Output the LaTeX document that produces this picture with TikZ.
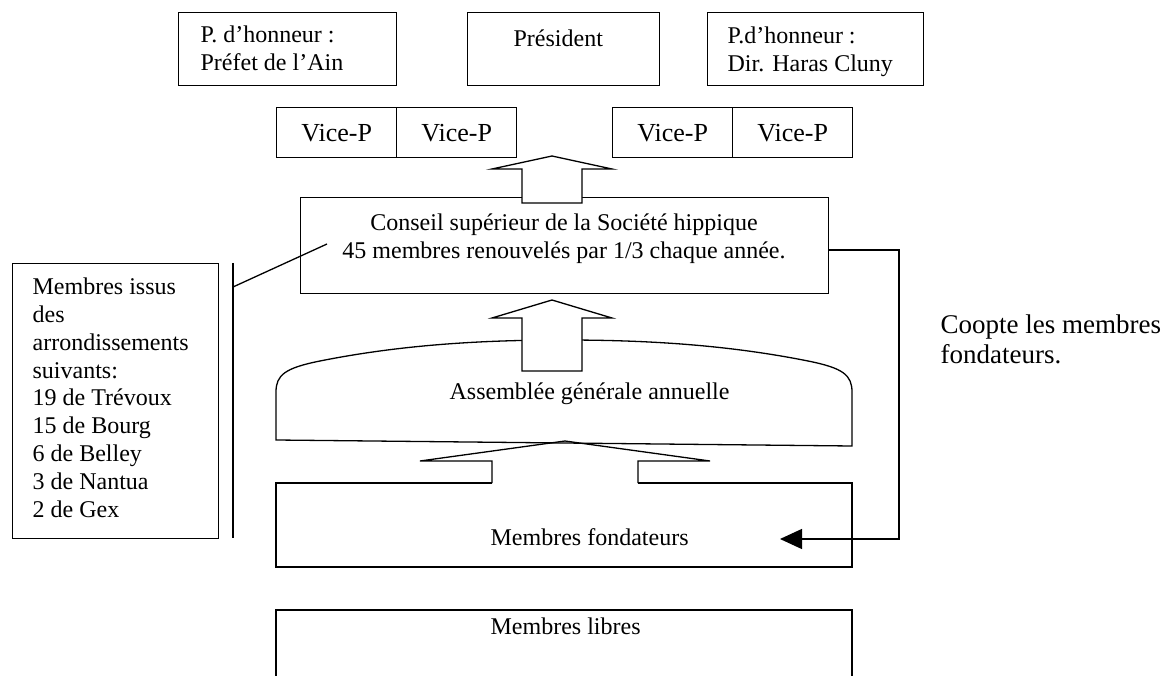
\documentclass[tikz,border=0pt]{standalone}
\usepackage{fontspec}
\setmainfont{Liberation Serif}
\usetikzlibrary{arrows.meta}
\begin{document}
\begin{tikzpicture}[x=1pt,y=-1pt, line width=1.3pt, line join=miter,
  txt/.style={font=\fontsize{24}{28}\selectfont, inner sep=0pt, anchor=base west, align=left},
  rect/.style={draw, inner sep=0pt, anchor=north west},
  vpbox/.style={rect, minimum width=120pt, minimum height=50pt, font=\fontsize{26}{30}\selectfont},
  bigarrow/.style={draw, fill=white},
]
\useasboundingbox (0,0) rectangle (1163,676);

% top row
\node[rect, minimum width=218pt, minimum height=73pt] (hon1) at (178,12) {};
\node[rect, minimum width=192pt, minimum height=73pt] (pres) at (467,12) {};
\node[rect, minimum width=216pt, minimum height=73pt] (hon2) at (707,12) {};
% multi-line nodes: base = last line's baseline
\node[txt] (hon1t) at (200,71) {P. d’honneur :\\Préfet de l’Ain};
\node[txt] (prest) at (513,47) {Président};
\node[txt] (hon2t) at (727,72) {P.d’honneur :\\Dir. Haras Cluny};

% vice-presidents
\node[vpbox] (vp1) at (276,107) {Vice-P};
\node[vpbox] (vp2) at (396,107) {Vice-P};
\node[vpbox] (vp3) at (612,107) {Vice-P};
\node[vpbox] (vp4) at (732,107) {Vice-P};

% conseil
\node[rect, minimum width=528pt, minimum height=96pt] (cons) at (300,197) {};
\node[txt, anchor=base, align=center] (const) at (564,259)
  {Conseil supérieur de la Société hippique\\45 membres renouvelés par 1/3 chaque année.};

% arrow conseil -> vice-p
\draw[bigarrow] (522,203) -- (522,169) -- (492,169) -- (552,156) -- (612,169) -- (582,169) -- (582,203) -- cycle;

% left box
\node[rect, minimum width=206pt, minimum height=275pt] (issus) at (12,263) {};
\node[txt, font=\fontsize{24}{27.8}\selectfont] (issust) at (32,517) {Membres issus\\des\\arrondissements\\suivants:\\19 de Trévoux\\15 de Bourg\\6 de Belley\\3 de Nantua\\2 de Gex};
\coordinate (vtop) at (233,263);
\coordinate (vbot) at (233,538);
\coordinate (dstart) at (233,287);
\coordinate (dend) at (327,244);
\draw (vtop) -- (vbot);
\draw (dstart) -- (dend);

% assemblee
\coordinate (aBL) at (276,440);
\coordinate (aBR) at (852,446);
\draw (aBL) -- (276,392) .. controls (276,375) and (285,368) .. (320,361)
  .. controls (400,345) and (480,340) .. (564,340)
  .. controls (648,340) and (728,345) .. (808,361)
  .. controls (843,368) and (852,375) .. (852,392) -- (aBR) -- cycle;
\node[txt] (assemt) at (449,400) {Assemblée générale annuelle};

% arrow assemblee -> conseil
\draw[bigarrow] (522,371) -- (522,318) -- (492,318) -- (552,300) -- (612,318) -- (582,318) -- (582,371) -- cycle;

% fondateurs
\coordinate (fTL) at (276,483);
\coordinate (fTR) at (852,483);
\coordinate (fBL) at (276,567);
\coordinate (fBR) at (852,567);
\coordinate (sL) at (492,483);
\coordinate (sR) at (638,483);
\draw (sL) -- (fTL) -- (fBL) -- (fBR) -- (fTR) -- (sR);
\draw (sL) -- (492,461) -- (420,461) -- (565,441) -- (710,461) -- (638,461) -- (sR);
\node[txt] (fondt) at (490,545) {Membres fondateurs};

% connector coopte
\coordinate (cA) at (828,250);
\coordinate (cB) at (899,250);
\coordinate (cC) at (899,539);
\coordinate (cD) at (780,539);
\draw[-{Triangle[length=22pt,width=20pt]}] (cA) -- (cB) -- (cC) -- (cD);
\node[txt, font=\fontsize{27}{30}\selectfont] (coopt) at (940,364) {Coopte les membres\\fondateurs.};

% libres
\draw (276,676) -- (276,610) -- (852,610) -- (852,676);
\node[txt] (libt) at (490,634) {Membres libres};
\end{tikzpicture}
\end{document}
